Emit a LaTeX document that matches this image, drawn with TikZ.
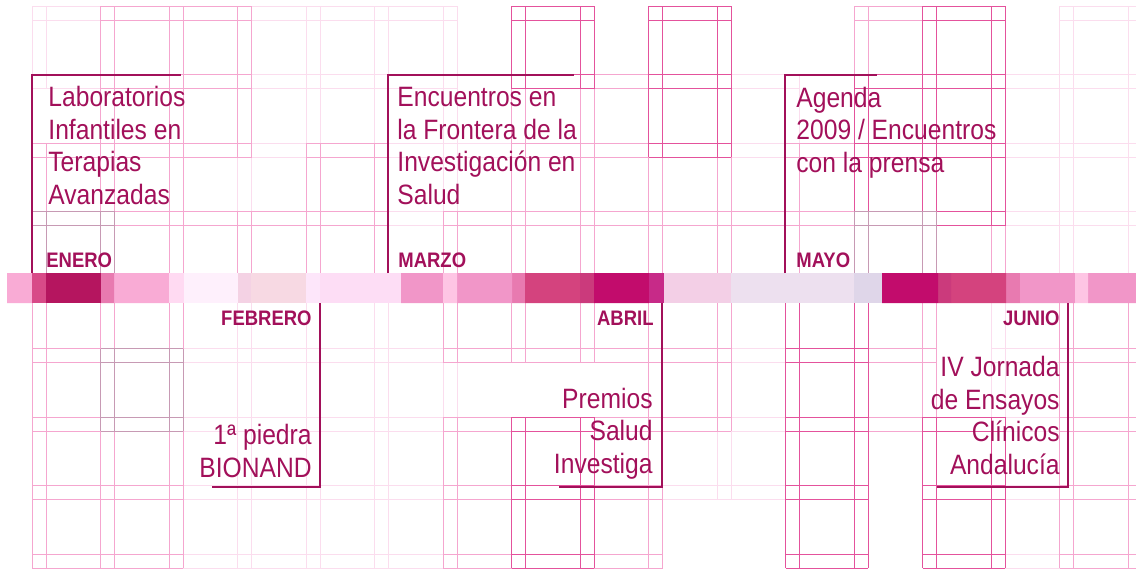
\documentclass[tikz,border=0pt]{standalone}
\usepackage{fontspec}
\setmainfont{Liberation Sans}[FakeStretch=0.88]

\definecolor{ink}{RGB}{162,16,90}
\definecolor{gridpale}{HTML}{FBDDEE}
\definecolor{gridlight}{HTML}{F5A6CF}
\definecolor{gridmid}{HTML}{E4529C}
\definecolor{gridgrey}{HTML}{C79AB4}

\definecolor{bandA}{HTML}{F9ABD5}
\definecolor{bandB}{HTML}{D84A88}
\definecolor{bandC}{HTML}{B5155F}
\definecolor{bandD}{HTML}{E87AB0}
\definecolor{bandE}{HTML}{FFDAF2}
\definecolor{bandF}{HTML}{FEF0FC}
\definecolor{bandG}{HTML}{F4D2E4}
\definecolor{bandH}{HTML}{F7D9E3}
\definecolor{bandI}{HTML}{FDE6FA}
\definecolor{bandJ}{HTML}{FDDDF5}
\definecolor{bandK}{HTML}{F196C8}
\definecolor{bandL}{HTML}{FEC5E4}
\definecolor{bandM}{HTML}{D4437E}
\definecolor{bandN}{HTML}{CB3A7C}
\definecolor{bandO}{HTML}{C20C6C}
\definecolor{bandP}{HTML}{C72A88}
\definecolor{bandQ}{HTML}{F3CFE6}
\definecolor{bandR}{HTML}{EDE0EF}
\definecolor{bandS}{HTML}{DFD6E9}

\tikzset{
  gridpale/.style={color=gridpale, line width=0.5pt},
  gridlight/.style={color=gridlight, line width=0.5pt},
  gridmid/.style={color=gridmid, line width=0.5pt},
  gridgrey/.style={color=gridgrey, line width=0.5pt},
  pics/tile/.style={code={
    \draw (0,0) -- (0,82.5) (14,0) -- (14,82.5) (68.5,0) -- (68.5,82.5) (82.5,0) -- (82.5,82.5)
          (0,0) -- (82.5,0) (0,14) -- (82.5,14) (0,68.5) -- (82.5,68.5) (0,82.5) -- (82.5,82.5);
  }},
  bracket/.style={draw=ink, line width=1pt},
  month/.style={font=\fontsize{10.5}{12}\selectfont\bfseries, text=ink, inner sep=0pt},
  event/.style={font=\fontsize{14}{16.2}\selectfont, text=ink, inner sep=0pt},
}

\begin{document}
\begin{tikzpicture}[x=0.5pt, y=-0.5pt]
            \useasboundingbox (0,0) rectangle (1136,569);

            % background tiles, column/row on the 68.5 grid
            \foreach \k/\j in {0/0,3/0,4/0,5/0,15/0,4/1,5/1,10/1,14/1,15/1,2/2,3/2,5/2,6/2,10/2,15/2,
                5/3,14/3,15/3,2/4,3/4,4/4,5/4,2/5,3/5,4/5,5/5,2/6,3/6,4/6,5/6,2/7,3/7,4/7,5/7,
                9/6,10/5,10/6,14/4,14/5,14/6,14/7}
                \pic[gridpale] at ({32+68.5*\k},{6+68.5*\j}) {tile};
            \foreach \k/\j in {1/0,2/0,12/0,1/1,2/1,7/1,8/1,0/2,1/2,4/2,7/2,8/2,9/2,11/2,
                1/3,2/3,3/3,4/3,6/3,7/3,8/3,9/3,10/3,11/3,13/3,0/4,0/5,0/6,0/7,1/4,1/6,1/7,
                6/4,7/4,8/4,9/4,9/5,6/6,6/7,8/6,8/7,12/4,12/5,15/4,15/5,15/6,15/7}
                \pic[gridlight] at ({32+68.5*\k},{6+68.5*\j}) {tile};
            \foreach \k/\j in {7/0,9/0,13/0,9/1,12/1,13/1,12/2,13/2,7/6,7/7,11/4,11/5,11/6,11/7,13/6,13/7}
                \pic[gridmid] at ({32+68.5*\k},{6+68.5*\j}) {tile};
            \foreach \k/\j in {0/3,1/5,12/3}
                \pic[gridgrey] at ({32+68.5*\k},{6+68.5*\j}) {tile};

            % colour band
            \fill[bandA] (7,273) rectangle (32,303) (114,273) rectangle (169,303);
            \fill[bandB] (32,273) rectangle (46,303);
            \fill[bandC] (46,273) rectangle (101,303);
            \fill[bandD] (101,273) rectangle (114,303) (512,273) rectangle (525,303) (1006,273) rectangle (1020,303);
            \fill[bandE] (169,273) rectangle (184,303);
            \fill[bandF] (184,273) rectangle (238,303);
            \fill[bandG] (238,273) rectangle (251,303);
            \fill[bandH] (251,273) rectangle (306,303);
            \fill[bandI] (306,273) rectangle (320,303);
            \fill[bandJ] (320,273) rectangle (401,303);
            \fill[bandK] (401,273) rectangle (443,303) (457,273) rectangle (512,303)
                (1020,273) rectangle (1075,303) (1088,273) rectangle (1136,303);
            \fill[bandL] (443,273) rectangle (457,303) (1075,273) rectangle (1088,303);
            \fill[bandM] (525,273) rectangle (580,303) (951,273) rectangle (1006,303);
            \fill[bandN] (580,273) rectangle (594,303) (938,273) rectangle (951,303);
            \fill[bandO] (594,273) rectangle (649,303) (882,273) rectangle (938,303);
            \fill[bandP] (649,273) rectangle (664,303);
            \fill[bandQ] (664,273) rectangle (731,303);
            \fill[bandR] (731,273) rectangle (854,303);
            \fill[bandS] (854,273) rectangle (882,303);

            % months above the band
            \node[month, anchor=base west] (enero) at (46,267) {ENERO};
            \node[month, anchor=base west] (marzo) at (398,267) {MARZO};
            \node[month, anchor=base west] (mayo) at (796,267) {MAYO};

            \node[event, anchor=base west, align=left] (laboratorios) at (48,204)
                {Laboratorios\\Infantiles en\\Terapias\\Avanzadas};
            \node[event, anchor=base west, align=left] (encuentros) at (397,204)
                {Encuentros en\\la Frontera de la\\Investigación en\\Salud};
            \node[event, anchor=base west, align=left] (agenda) at (796,172)
                {Agenda\\2009 / Encuentros\\con la prensa};

            % months below the band
            \node[month, anchor=base east] (febrero) at (312,325) {FEBRERO};
            \node[month, anchor=base east] (abril) at (654,325) {ABRIL};
            \node[month, anchor=base east] (junio) at (1060,325) {JUNIO};

            \node[event, anchor=base east, align=right] (bionand) at (312,477)
                {1ª piedra\\BIONAND};
            \node[event, anchor=base east, align=right] (premios) at (653,473)
                {Premios\\Salud\\Investiga};
            \node[event, anchor=base east, align=right] (jornada) at (1060,474)
                {IV Jornada\\de Ensayos\\Clínicos\\Andalucía};

            % brackets
            \coordinate (enero-foot) at (32,273);
            \coordinate (enero-end) at (181,75);
            \coordinate (marzo-foot) at (388,273);
            \coordinate (marzo-end) at (574,75);
            \coordinate (mayo-foot) at (785,273);
            \coordinate (mayo-end) at (877,75);
            \coordinate (febrero-foot) at (320,303);
            \coordinate (febrero-end) at (212,487);
            \coordinate (abril-foot) at (662,303);
            \coordinate (abril-end) at (559,487);
            \coordinate (junio-foot) at (1068,303);
            \coordinate (junio-end) at (937,487);

            \draw[bracket] (enero-foot) |- (enero-end);
            \draw[bracket] (marzo-foot) |- (marzo-end);
            \draw[bracket] (mayo-foot) |- (mayo-end);
            \draw[bracket] (febrero-foot) |- (febrero-end);
            \draw[bracket] (abril-foot) |- (abril-end);
            \draw[bracket] (junio-foot) |- (junio-end);
\end{tikzpicture}
\end{document}
